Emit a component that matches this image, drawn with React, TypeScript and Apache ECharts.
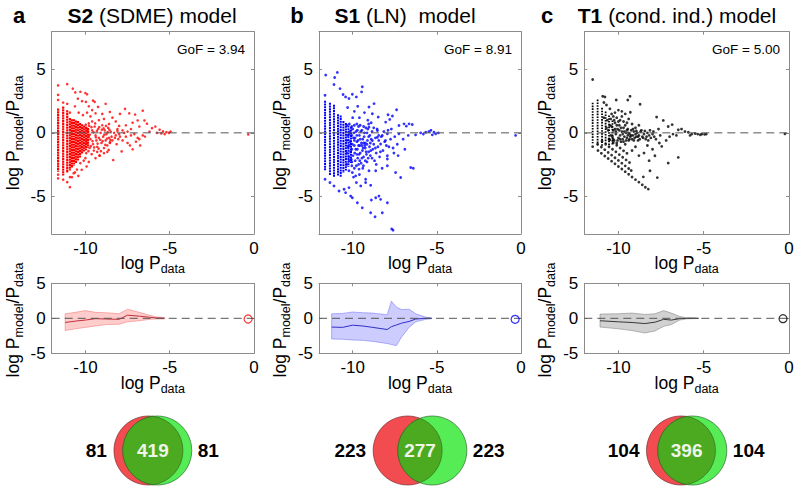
import React, { useEffect, useRef } from "react";
import * as echarts from "echarts";

// ---------------- data ----------------
const panelLetters = ["a", "b", "c"];
const modelBold = ["S2", "S1", "T1"];
const modelRest = [" (SDME) model", " (LN)  model", " (cond. ind.) model"];
const gofValues = ["3.94", "8.91", "5.00"];
const seriesColors = ["#ff0000", "#0000ff", "#000000"];
const xTicks = [-10, -5, 0];
const yTicksTop = [-5, 0, 5];
const yTicksMid = [-5, 0, 5];

// dense vertical columns of points: [logPdata, lowest, highest]
const stripesA = [[-11.62, -3.0, 1.85], [-11.32, -3.3, 2.0], [-11.08, -3.1, 1.7], [-10.92, -2.9, 1.1], [-10.8, -2.7, 1.0], [-10.68, -2.5, 1.0], [-10.56, -2.3, 0.9], [-10.44, -2.1, 0.85], [-10.32, -1.9, 0.7], [-10.2, -1.6, 0.6], [-10.08, -1.4, 0.5], [-9.96, -1.3, 0.4], [-9.84, -1.1, 0.3]];
const stripesB = [[-11.64, -2.9, 2.45], [-11.35, -3.3, 2.3], [-11.11, -3.4, 2.15], [-10.87, -3.3, 1.4], [-10.71, -3.4, 1.3], [-10.55, -3.1, 0.85], [-10.4, -2.9, 0.7], [-10.25, -2.6, 0.5], [-10.1, -2.3, 0.4]];
const stripesC = [[-11.51, -0.75, 2.3], [-11.22, -0.9, 2.55], [-10.96, -1.0, 1.9], [-10.75, -0.9, 1.6], [-10.55, -1.0, 1.3], [-10.35, -0.9, 0.9]];

const pointsA = [
  [-11.62, 3.75], [-11.62, 3.0], [-11.62, 2.6], [-11.62, -3.6], [-11.62, -3.3], [-11.32, -3.7], [-11.32, 2.4], [-11.08, 3.85], [-11.08, -3.9], [-11.08, 2.3], [-10.92, -4.3], [-10.92, -3.5], [-10.92, 1.6],
  [-10.75, 3.5], [-10.6, 3.2], [-10.45, 2.7], [-10.62, 2.1], [-10.3, 3.25], [-10.0, 3.15], [-9.9, 3.05], [-10.2, 2.5], [-9.97, 2.45], [-9.8, 2.1], [-9.55, 2.55], [-9.45, 2.45], [-9.25, 2.05], [-8.8, 2.3], [-9.6, 1.8], [-9.9, 1.6], [-10.4, 1.6], [-10.15, 1.4], [-9.7, 1.3], [-9.4, 1.55], [-9.0, 1.5], [-8.55, 1.65], [-8.9, 1.1], [-9.2, 1.0], [-8.4, 1.2], [-8.2, 0.9], [-7.95, 1.5], [-7.65, 1.9], [-7.4, 1.55], [-7.05, 1.45], [-6.6, 1.75], [-6.9, 0.98], [-6.5, 0.98], [-6.35, 0.72], [-7.2, 0.8], [-7.6, 0.6], [-8.0, 0.55], [-8.6, 0.7], [-9.6, 0.9], [-9.8, 0.75], [-6.05, 0.37], [-5.85, 0.5], [-5.6, 0.25], [-6.8, 0.5], [-7.3, 0.3], [-6.2, 0.1], [-5.4, 0.12], [-5.2, 0.05], [-5.05, 0.0], [-4.95, 0.1], [-5.3, -0.1], [-5.5, -0.05], [-5.75, 0.0], [-6.47, -0.29], [-6.6, -0.2], [-6.9, -0.4], [-7.1, -0.1], [-7.5, 0.1], [-7.8, 0.2], [-8.1, 0.3], [-0.34, -0.13],
  [-9.95, 0.4], [-9.85, 0.1], [-9.8, -0.3], [-9.9, -0.8], [-9.75, -1.2], [-9.95, -1.6], [-9.7, -0.5], [-9.6, 0.2], [-9.55, -0.9], [-9.5, -1.4], [-9.45, 0.5], [-9.4, -0.2], [-9.35, -0.6], [-9.3, -1.1], [-9.25, 0.3], [-9.2, -0.4], [-9.15, -1.8], [-9.1, 0.0], [-9.05, -0.8], [-9.0, 0.6], [-8.95, -0.3], [-8.9, -1.2], [-8.85, 0.2], [-8.8, -0.6], [-8.75, -0.1], [-8.7, -1.0], [-8.65, 0.4], [-8.6, -0.4], [-8.55, -0.8], [-8.5, 0.1], [-8.45, -0.3], [-8.4, -0.6], [-8.35, -2.15], [-8.3, 0.0], [-8.25, -0.4], [-8.2, -0.2], [-8.15, -0.9], [-8.1, 0.15], [-8.05, -0.5], [-8.0, -0.1], [-7.95, -0.3], [-7.85, -1.47], [-7.8, -0.6], [-7.7, 0.0], [-7.6, -0.3], [-7.5, -0.8], [-7.36, -1.0], [-7.3, -0.2], [-7.2, -1.3], [-7.0, -0.7], [-6.8, -0.5], [-6.75, -1.0],
  [-9.98, 0.65], [-9.92, -0.55], [-9.88, 0.25], [-9.82, -1.45], [-9.78, 0.55], [-9.74, -0.15], [-9.68, -1.05], [-9.64, 0.45], [-9.58, -0.65], [-9.52, 0.05], [-9.48, -1.15], [-9.42, 0.75], [-9.38, -0.35], [-9.32, 0.15], [-9.28, -0.85], [-9.22, -1.25], [-9.18, 0.45], [-9.12, -0.55], [-9.08, -1.45], [-9.02, 0.25], [-8.98, -0.65], [-8.92, 0.35], [-8.88, -0.15], [-8.82, -0.95], [-8.78, 0.55], [-8.72, -0.45], [-8.68, 0.05], [-8.62, -1.35], [-8.58, 0.25], [-8.52, -0.55],
  [-9.17, -1.8], [-9.3, -1.5], [-9.63, -1.69], [-9.93, -2.66], [-10.1, -2.2], [-10.22, -2.92], [-10.42, -3.4], [-10.62, -3.13], [-10.5, -2.9], [-10.3, -2.4], [-10.0, -2.0], [-9.8, -2.3], [-8.7, -1.5], [-8.54, -0.74], [-8.9, -1.6], [-9.4, -2.0], [-10.7, -3.2], [-10.8, -3.5]
];

const pointsB = [
  [-11.6, 4.57], [-10.91, 4.78], [-11.07, 4.38], [-11.11, 3.82], [-10.75, 3.5], [-11.64, 2.97], [-11.64, -3.67], [-11.35, -3.93], [-11.11, -4.2], [-10.81, -4.6], [-10.51, -4.46], [-10.42, -4.73], [-10.22, -4.33], [-10.12, -5.0], [-10.02, -5.13], [-9.72, -5.53], [-9.43, -5.93], [-9.52, -4.2], [-9.78, -3.93], [-9.23, -3.67], [-9.23, -3.93], [-8.93, -4.15], [-9.82, -3.4], [-10.02, -3.14], [-10.22, -3.0], [-9.62, -2.87], [-9.03, -3.0], [-8.63, -3.0], [-8.89, -5.31], [-8.63, -5.13], [-8.44, -5.0], [-8.34, -5.26], [-7.94, -5.53], [-8.93, -6.32], [-8.67, -6.64], [-8.24, -6.32], [-7.68, -7.6], [-7.6, -7.7], [-7.45, -3.14], [-7.15, -3.53], [-6.55, -2.74], [-7.94, -1.81], [-7.94, -2.07], [-7.94, -2.6],
  [-9.43, 3.64], [-9.47, 3.24], [-10.57, 3.03], [-10.42, 2.84], [-10.02, 3.05], [-9.78, 2.84], [-10.22, 2.71], [-9.03, 2.04], [-8.73, 2.31], [-8.83, 1.51], [-8.48, 1.25], [-7.9, 1.43], [-7.64, 1.33], [-7.8, 1.06], [-7.39, 1.83], [-8.04, 0.85], [-7.25, 0.58], [-6.95, 0.71], [-6.81, 0.53], [-6.65, 0.71], [-6.46, 0.66], [-10.3, 2.0], [-9.9, 1.7], [-9.6, 1.2], [-9.3, 1.6], [-9.1, 1.0], [-8.9, 0.8], [-10.0, 1.2], [-9.7, 2.1],
  [-7.25, -0.08], [-7.94, -0.08], [-9.03, 0.45], [-8.53, 0.18], [-8.53, -0.35], [-8.24, -0.21], [-8.83, -0.61], [-8.34, -0.88],
  [-6.26, -0.16], [-5.96, 0.0], [-5.8, -0.1], [-5.66, 0.05], [-5.47, 0.1], [-5.27, -0.16], [-5.17, 0.05], [-5.07, -0.08], [-4.91, 0.0], [-5.35, 0.2], [-0.32, -0.2],
  [-10.0, 0.3], [-9.95, -0.4], [-9.9, -1.0], [-9.88, -1.6], [-9.85, -2.2], [-9.8, 0.1], [-9.75, -0.7], [-9.72, -1.3], [-9.7, -2.0], [-9.65, 0.5], [-9.6, -0.2], [-9.58, -1.0], [-9.55, -1.6], [-9.5, -2.4], [-9.45, 0.2], [-9.4, -0.5], [-9.38, -1.2], [-9.35, -1.9], [-9.3, 0.0], [-9.25, -0.8], [-9.2, -1.5], [-9.15, -2.3], [-9.1, 0.3], [-9.05, -0.3], [-9.0, -1.1], [-8.95, -1.8], [-8.9, -0.5], [-8.85, 0.1], [-8.8, -1.3], [-8.75, -0.9], [-8.7, -2.2], [-8.65, -0.4], [-8.6, -1.6], [-8.55, 0.3], [-8.5, -1.1], [-8.45, -0.6], [-8.4, -1.9], [-8.3, -0.3], [-8.2, -1.4], [-8.1, -0.7], [-8.0, -1.0], [-7.9, 0.2], [-7.75, -0.5], [-7.6, -1.2], [-7.5, -0.3], [-7.35, -0.9], [-7.0, -0.5], [-6.9, -1.3], [-6.7, -0.2], [-6.4, -2.8], [-7.3, -1.8], [-8.6, -2.5], [-8.25, -2.8], [-9.4, -2.8], [-10.05, -2.6], [-9.95, -3.5], [-9.6, -3.3],
  [-10.3, -0.2], [-10.28, -1.1], [-10.22, -1.9], [-10.18, 0.1], [-10.15, -0.7], [-10.12, -1.5], [-10.08, -2.1], [-10.05, 0.5], [-10.02, -0.9], [-9.98, -1.8], [-9.92, 0.0], [-9.86, -0.4], [-9.82, -1.3], [-9.78, -2.6], [-9.72, 0.2], [-9.68, -0.6], [-9.62, -1.7], [-9.58, -2.2], [-9.52, 0.1], [-9.48, -0.8], [-9.42, -1.4], [-9.36, -2.6], [-9.32, -0.3], [-9.28, -1.0], [-9.22, 0.4], [-9.18, -1.7], [-9.12, -0.6], [-9.08, -2.0], [-8.98, -0.2], [-8.92, -1.4],
  [-10.35, 0.6], [-10.35, -0.6], [-10.35, -1.6], [-10.35, -2.5], [-10.2, 0.7], [-10.2, -0.1], [-10.2, -1.0], [-10.2, -2.2], [-10.05, -0.2], [-10.05, -1.3], [-10.05, -2.3], [-9.9, 0.6], [-9.9, -0.6], [-9.9, -2.8], [-9.75, 0.7], [-9.75, -0.2], [-9.75, -1.7], [-9.65, -1.0], [-9.65, -2.5], [-9.55, 0.6], [-9.55, -0.5], [-9.45, -1.0], [-9.45, -2.0], [-9.35, 0.5], [-9.35, -0.8], [-9.25, -1.2], [-9.25, -2.2], [-9.15, 0.0], [-9.15, -0.9], [-9.05, 0.7], [-9.05, -1.5], [-8.95, -0.8], [-8.85, -2.0], [-8.75, 0.4], [-8.65, -1.2], [-8.45, -0.2], [-8.35, -1.5], [-8.15, 0.1], [-8.05, -0.6], [-7.85, -1.1], [-7.7, 0.3], [-7.55, -1.6]
];

const pointsC = [
  [-11.51, 4.22], [-11.51, -1.09],
  [-11.2, -1.4], [-11.0, -1.62], [-10.8, -1.83], [-10.6, -2.03], [-10.4, -2.24], [-10.2, -2.45], [-10.0, -2.66], [-9.8, -2.86], [-9.6, -3.07], [-9.4, -3.28], [-9.2, -3.49], [-9.0, -3.7], [-8.8, -3.9], [-8.6, -4.11], [-8.42, -4.3], [-8.25, -4.45],
  [-11.22, -0.9], [-11.0, -1.12], [-10.8, -1.33], [-10.6, -1.55], [-10.4, -1.76], [-10.2, -1.97], [-10.0, -2.18], [-9.8, -2.4], [-9.6, -2.61], [-9.4, -2.82], [-9.25, -2.98],
  [-10.96, -0.65], [-10.75, -0.9], [-10.55, -1.1], [-10.35, -1.3], [-10.15, -1.5], [-9.95, -1.72], [-9.75, -1.93], [-9.55, -2.14], [-9.35, -2.35],
  [-10.5, -0.55], [-10.3, -0.78], [-10.1, -0.98], [-9.9, -1.2], [-9.7, -1.42], [-9.5, -1.62],
  [-10.4, 0.5], [-10.35, -0.3], [-10.3, 0.2], [-10.25, -0.6], [-10.2, 0.8], [-10.15, -0.1], [-10.1, -0.8], [-10.05, 0.3], [-10.0, -0.4], [-9.95, 0.6], [-9.9, -0.2], [-9.85, -0.7], [-9.8, 0.1], [-9.75, -0.5], [-9.7, 0.4], [-9.65, -0.3], [-9.6, -0.9], [-9.55, 0.0], [-9.5, -0.4], [-9.45, 0.3], [-9.4, -0.6], [-9.35, -0.1], [-9.3, -0.3], [-9.25, 0.2], [-9.2, -0.5], [-9.15, -0.2], [-9.1, 0.1], [-9.05, -0.4], [-9.0, -0.1], [-8.95, -0.3], [-8.9, 0.0], [-8.85, -0.6], [-8.8, -0.2], [-8.7, 0.1], [-8.6, -0.3], [-8.5, -0.1], [-8.4, -0.5], [-8.3, 0.0], [-8.2, -0.2], [-8.1, -0.4], [-8.0, -0.1], [-7.9, -0.3],
  [-10.6, 0.2], [-10.55, -0.5], [-10.65, 1.0], [-10.45, 1.1], [-10.3, 1.3], [-10.1, 1.2], [-9.9, 1.0], [-9.7, 0.9], [-9.5, 0.8], [-9.3, 1.63], [-9.6, 1.5], [-9.8, 1.7], [-10.0, 1.8], [-10.2, 1.6], [-10.92, 2.89], [-10.79, 2.84], [-10.13, 2.6], [-9.32, 2.89], [-9.45, 2.6], [-8.73, 2.26],
  [-7.76, 1.25], [-7.37, 0.98], [-7.08, 0.5], [-6.85, 0.65], [-6.49, 0.24], [-6.3, 0.3], [-6.1, 0.1], [-5.9, 0.05], [-5.7, -0.1], [-5.5, -0.05], [-5.35, -0.1], [-5.2, -0.15], [-5.1, -0.1], [-4.95, -0.12], [-4.85, -0.1], [-5.8, -0.2], [-6.6, -0.2], [-6.8, -0.1], [-7.0, -0.3], [-7.2, -0.6],
  [-7.46, -1.07], [-7.86, -1.81], [-7.08, -2.39], [-6.49, -1.94], [-8.15, -3.0], [-7.72, -3.54], [-8.54, -3.48], [-8.2, -2.2], [-8.0, -1.3], [-8.5, -1.6], [-8.3, -1.0], [-7.6, -0.8], [-9.0, -1.1], [-9.2, -1.4], [-8.8, -1.8], [-0.24, -0.08],
  [-10.85, 2.4], [-10.85, 1.2], [-10.7, 2.2], [-10.7, 0.4], [-10.5, 1.9], [-10.5, 0.6], [-10.4, 1.5], [-10.25, 1.0], [-10.2, 0.3], [-10.1, 0.6], [-10.05, -0.6], [-9.95, 0.2], [-9.9, -0.5], [-9.85, 0.4], [-9.75, -0.1], [-9.7, -0.7], [-9.65, 0.1], [-9.55, -0.6], [-9.5, 0.2], [-9.45, -0.2], [-9.4, 0.0], [-9.35, -0.5], [-9.25, -0.2], [-9.15, 0.3], [-9.1, -0.6], [-8.95, 0.15], [-8.85, -0.3], [-8.75, -0.5], [-8.65, 0.2], [-8.55, -0.4], [-8.45, 0.15], [-8.35, -0.3], [-8.25, -0.6], [-8.15, 0.2], [-7.95, 0.1], [-7.8, -0.5], [-7.65, 0.3], [-7.55, -0.2], [-10.45, -0.2], [-10.3, -0.5], [-10.15, 0.1], [-10.0, 0.9], [-9.8, 1.3], [-9.6, 0.6], [-9.4, 1.1], [-9.2, 0.7], [-9.0, 0.4], [-8.8, 0.6]
];

// binned summaries for the lower panels
const bandXA = [-11.2, -10.6, -10.0, -9.4, -8.8, -8.0, -7.5, -6.8, -6.2, -5.8, -5.3];
const bandHiA = [0.65, 0.85, 1.1, 0.85, 0.8, 0.65, 1.3, 0.85, 0.45, 0.2, 0.1];
const bandLoA = [-1.75, -1.5, -1.3, -1.1, -0.9, -0.85, -0.5, -0.35, -0.15, -0.1, -0.1];
const bandMeanA = [-0.6, -0.4, -0.25, -0.05, -0.1, -0.15, 0.45, 0.3, 0.15, 0.05, 0.0];

const bandXB = [-11.25, -10.6, -10.0, -9.4, -8.8, -7.95, -7.7, -7.4, -7.1, -6.65, -6.25, -5.65, -5.3];
const bandHiB = [0.64, 0.7, 0.9, 0.8, 0.74, 0.5, 2.45, 1.6, 1.25, 1.3, 0.64, 0.15, 0.05];
const bandLoB = [-2.95, -3.0, -3.1, -3.15, -3.3, -3.6, -3.75, -3.9, -2.7, -1.3, -0.5, -0.15, -0.05];
const bandMeanB = [-1.25, -1.3, -0.98, -1.1, -1.3, -1.6, -1.2, -0.95, -0.7, -0.45, -0.1, 0.0, 0.0];

const bandXC = [-11.08, -10.0, -9.2, -8.45, -7.85, -7.35, -6.9, -6.4, -6.0, -5.3];
const bandHiC = [0.6, 0.65, 0.75, 0.55, 0.65, 1.1, 0.75, 0.25, 0.08, 0.02];
const bandLoC = [-1.25, -1.5, -1.75, -2.1, -1.8, -1.15, -0.9, -0.25, -0.08, -0.02];
const bandMeanC = [-0.35, -0.5, -0.6, -0.75, -0.55, -0.15, -0.25, -0.05, 0.0, 0.0];

const markerA = [[-0.35, -0.1]];
const markerB = [[-0.35, -0.15]];
const markerC = [[-0.35, -0.05]];
const zeroLine = [[-12, 0], [0, 0]];

const vennLeft = [81, 223, 104];
const vennBoth = [419, 277, 396];
const vennRight = [81, 223, 104];

// ---------------- layout / style ----------------
const FONT = "'Liberation Sans', Arial, Helvetica, sans-serif";
const colLeft = [51.7, 319, 584.3];
const colWidth = [202.3, 202, 204.7];
const letterX = [19, 297, 547];
const titleX = [152, 405, 677];
const topTop = 31.7, topH = 202.3;
const midTop = 283.3, midH = 70;
const boxColor = "#8c8c8c";
const bandFill = ["rgba(255,0,0,0.2)", "rgba(0,0,255,0.2)", "rgba(0,0,0,0.18)"];
const bandEdge = ["rgba(235,90,90,0.55)", "rgba(90,90,235,0.55)", "rgba(90,90,90,0.5)"];
const meanColor = ["#c0303a", "#3030c8", "#383838"];
const stripeWidth = [2.2, 2.0, 1.8];
const stripeDash = [[2.2, 0.5], [2.0, 0.7], [1.6, 1.2]];
const dotSize = [2.6, 2.8, 2.8];

const allStripes = [stripesA, stripesB, stripesC];
const allPoints = [pointsA, pointsB, pointsC];
const bands = [
  { x: bandXA, hi: bandHiA, lo: bandLoA, m: bandMeanA },
  { x: bandXB, hi: bandHiB, lo: bandLoB, m: bandMeanB },
  { x: bandXC, hi: bandHiC, lo: bandLoC, m: bandMeanC },
];
const markers = [markerA, markerB, markerC];

let measureCtx: CanvasRenderingContext2D | null = null;
function tw(text: string, size: number, weight = "normal") {
  if (!measureCtx) measureCtx = document.createElement("canvas").getContext("2d");
  measureCtx!.font = `${weight} ${size}px ${FONT}`;
  return measureCtx!.measureText(text).width;
}

function subLabel(parts: { t: string; sub: boolean }[], cx: number, cy: number, rotated: boolean) {
  const main = 17.5, sub = 12.5, off = 6;
  const widths = parts.map((p) => tw(p.t, p.sub ? sub : main));
  const total = widths.reduce((a, b) => a + b, 0);
  let x = -total / 2;
  const children = parts.map((p, i) => {
    const el = {
      type: "text",
      x,
      y: p.sub ? off : 0,
      style: { text: p.t, fontSize: p.sub ? sub : main, fontFamily: FONT, fill: "#000", align: "left", verticalAlign: "middle" },
    };
    x += widths[i];
    return el;
  });
  return { type: "group", x: cx, y: cy, rotation: rotated ? Math.PI / 2 : 0, children };
}

function lensFraction(d: number, r: number) {
  const t = d / (2 * r);
  return (2 * Math.acos(t) - 2 * t * Math.sqrt(1 - t * t)) / Math.PI;
}
function centerDistance(frac: number, r: number) {
  let lo = 0, hi = 2 * r;
  for (let k = 0; k < 60; k++) {
    const mid = (lo + hi) / 2;
    if (lensFraction(mid, r) > frac) lo = mid; else hi = mid;
  }
  return (lo + hi) / 2;
}

function makeAxis(g: number, isX: boolean, mirror: boolean, range: number[], ticks: number[]) {
  return {
    type: "value",
    gridIndex: g,
    position: isX ? (mirror ? "top" : "bottom") : mirror ? "right" : "left",
    min: range[0],
    max: range[1],
    splitLine: { show: false },
    axisLine: { show: true, onZero: false, lineStyle: { color: boxColor, width: 1 } },
    axisTick: { show: true, inside: true, length: 3, customValues: ticks, lineStyle: { color: boxColor } },
    axisLabel: {
      show: !mirror,
      customValues: ticks,
      fontSize: 17,
      fontFamily: FONT,
      color: "#000",
      margin: isX ? 6 : 6,
    },
  };
}

export default function App() {
  const ref = useRef<HTMLDivElement>(null);
  useEffect(() => {
    if (!ref.current) return;
    const chart = echarts.init(ref.current, undefined, { renderer: "svg", width: 797, height: 490 });

    const grids: any[] = [];
    const xAxes: any[] = [];
    const yAxes: any[] = [];
    const series: any[] = [];
    const graphics: any[] = [];

    for (let c = 0; c < 3; c++) {
      for (let row = 0; row < 2; row++) {
        const g = c * 2 + row;
        grids.push({ left: colLeft[c], width: colWidth[c], top: row === 0 ? topTop : midTop, height: row === 0 ? topH : midH, outerBoundsMode: "none", containLabel: false });
        xAxes.push(makeAxis(g, true, false, [-12, 0], xTicks));
        xAxes.push(makeAxis(g, true, true, [-12, 0], xTicks));
        const yr = row === 0 ? [-8, 8] : [-5, 5];
        const yt = row === 0 ? yTicksTop : yTicksMid;
        yAxes.push(makeAxis(g, false, false, yr, yt));
        yAxes.push(makeAxis(g, false, true, yr, yt));
      }
      const gTop = c * 2, gMid = c * 2 + 1;
      const col = seriesColors[c];
      const sw = stripeWidth[c];
      const sd = stripeDash[c];
      // top: dense columns of points
      series.push({
        type: "custom",
        xAxisIndex: gTop * 2,
        yAxisIndex: gTop * 2,
        data: allStripes[c],
        encode: { x: 0, y: [1, 2] },
        silent: true,
        z: 2,
        renderItem: (params: any, api: any) => {
          const p1 = api.coord([api.value(0), api.value(2)]);
          const p2 = api.coord([api.value(0), api.value(1)]);
          return { type: "line", shape: { x1: p1[0], y1: p1[1] - 1, x2: p2[0], y2: p2[1] + 1 }, style: { stroke: col, lineWidth: sw, lineDash: sd } };
        },
      });
      series.push({
        type: "scatter",
        xAxisIndex: gTop * 2,
        yAxisIndex: gTop * 2,
        data: allPoints[c],
        symbol: "circle",
        symbolSize: dotSize[c],
        itemStyle: { color: col },
        silent: true,
        z: 3,
      });
      series.push({
        type: "line",
        xAxisIndex: gTop * 2,
        yAxisIndex: gTop * 2,
        data: zeroLine,
        showSymbol: false,
        silent: true,
        lineStyle: { color: "#555", width: 1, type: [8, 5] },
        z: 4,
      });
      // middle: band
      const band = bands[c];
      series.push({
        type: "custom",
        xAxisIndex: gMid * 2,
        yAxisIndex: gMid * 2,
        data: [[band.x[0], band.lo[0]]],
        silent: true,
        z: 2,
        renderItem: (params: any, api: any) => {
          const pts: number[][] = [];
          for (let i = 0; i < band.x.length; i++) pts.push(api.coord([band.x[i], band.hi[i]]));
          for (let i = band.x.length - 1; i >= 0; i--) pts.push(api.coord([band.x[i], band.lo[i]]));
          return { type: "polygon", shape: { points: pts }, style: { fill: bandFill[c], stroke: bandEdge[c], lineWidth: 0.8 } };
        },
      });
      series.push({
        type: "line",
        xAxisIndex: gMid * 2,
        yAxisIndex: gMid * 2,
        data: band.x.map((x, i) => [x, band.m[i]]),
        showSymbol: false,
        silent: true,
        lineStyle: { color: meanColor[c], width: 1 },
        z: 3,
      });
      series.push({
        type: "line",
        xAxisIndex: gMid * 2,
        yAxisIndex: gMid * 2,
        data: zeroLine,
        showSymbol: false,
        silent: true,
        lineStyle: { color: "#555", width: 1, type: [8, 5] },
        z: 4,
      });
      series.push({
        type: "scatter",
        xAxisIndex: gMid * 2,
        yAxisIndex: gMid * 2,
        data: markers[c],
        symbol: "circle",
        symbolSize: 8,
        itemStyle: { color: "rgba(255,255,255,0)", borderColor: col, borderWidth: 1.2 },
        silent: true,
        z: 5,
      });

      // texts
      const cx = colLeft[c] + colWidth[c] / 2;
      graphics.push({ type: "text", x: letterX[c], y: 15, style: { text: panelLetters[c], fontSize: 22, fontWeight: "bold", fontFamily: FONT, fill: "#000", align: "center", verticalAlign: "middle" } });
      graphics.push({
        type: "text",
        x: titleX[c],
        y: 15,
        style: {
          text: `{b|${modelBold[c]}}{r|${modelRest[c]}}`,
          rich: { b: { fontSize: 21, fontWeight: "bold", fontFamily: FONT, fill: "#000" }, r: { fontSize: 21, fontFamily: FONT, fill: "#000" } },
          align: "center",
          verticalAlign: "middle",
        },
      });
      graphics.push({ type: "text", x: colLeft[c] + colWidth[c] - 9, y: 49.5, style: { text: `GoF = ${gofValues[c]}`, fontSize: 13.5, fontFamily: FONT, fill: "#000", align: "right", verticalAlign: "middle" } });
      const yParts = [{ t: "log P", sub: false }, { t: "model", sub: true }, { t: "/P", sub: false }, { t: "data", sub: true }];
      graphics.push(subLabel(yParts, colLeft[c] - 39, topTop + topH / 2, true));
      graphics.push(subLabel(yParts, colLeft[c] - 39, 320, true));
      const xParts = [{ t: "log P", sub: false }, { t: "data", sub: true }];
      graphics.push(subLabel(xParts, cx, 263, false));
      graphics.push(subLabel(xParts, cx, 383, false));

      // Venn
      const r = 34.5;
      const vy = 450.5;
      const frac = vennBoth[c] / (vennLeft[c] + vennBoth[c]);
      const d = centerDistance(frac, r);
      const c1 = cx - d / 2, c2 = cx + d / 2;
      const h = Math.sqrt(r * r - (d / 2) * (d / 2));
      const pathD = `M ${cx} ${vy - h} A ${r} ${r} 0 0 1 ${cx} ${vy + h} A ${r} ${r} 0 0 1 ${cx} ${vy - h} Z`;
      const lensName = "vennLens" + c;
      echarts.graphic.registerShape(lensName, (echarts.graphic as any).extendPath(pathD, {}));
      graphics.push({ type: "circle", shape: { cx: c1, cy: vy, r }, style: { fill: "#f24b50", stroke: "#7a3030", lineWidth: 0.7 } });
      graphics.push({ type: "circle", shape: { cx: c2, cy: vy, r }, style: { fill: "#55ec55", stroke: "#2f6a2f", lineWidth: 0.7 } });
      graphics.push({ type: lensName, x: 0, y: 0, style: { fill: "#4caa20", stroke: "#2f5f20", lineWidth: 0.6 } });
      graphics.push({ type: "text", x: cx, y: vy, style: { text: String(vennBoth[c]), fontSize: 19, fontWeight: "bold", fontFamily: FONT, fill: "#eef5e8", align: "center", verticalAlign: "middle" } });
      graphics.push({ type: "text", x: c1 - r - 7, y: vy, style: { text: String(vennLeft[c]), fontSize: 19, fontWeight: "bold", fontFamily: FONT, fill: "#000", align: "right", verticalAlign: "middle" } });
      graphics.push({ type: "text", x: c2 + r + 6, y: vy, style: { text: String(vennRight[c]), fontSize: 19, fontWeight: "bold", fontFamily: FONT, fill: "#000", align: "left", verticalAlign: "middle" } });
    }

    chart.setOption({
      animation: false,
      backgroundColor: "#ffffff",
      grid: grids,
      xAxis: xAxes,
      yAxis: yAxes,
      series,
      graphic: { elements: graphics },
    });
    return () => chart.dispose();
  }, []);

  return <div ref={ref} style={{ position: "fixed", left: 0, top: 0, width: 797, height: 490, background: "#fff" }} />;
}
